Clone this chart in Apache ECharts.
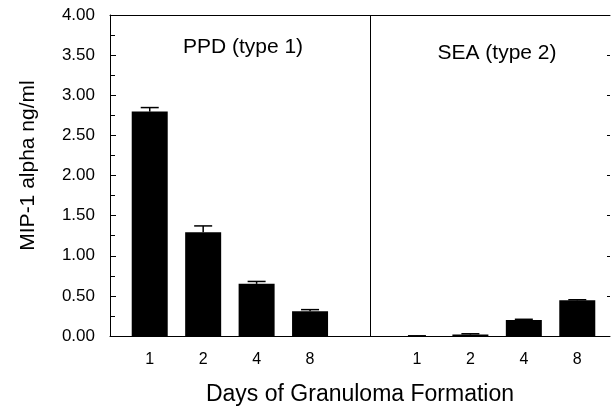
<!DOCTYPE html>
<html lang="en">
<head>
    <meta charset="UTF-8">
    <title>MIP-1 alpha</title>
    <script src="https://cdn.jsdelivr.net/npm/echarts@6.0.0/dist/echarts.min.js"></script>
    <style>
        body { margin: 0; background: #fff; }
    </style>
</head>
<body>
<div id="chart" style="width: 611px;height:411px;"></div>

<script>
    // days of granuloma formation, one panel each
    var ppdDays = ['1', '2', '4', '8'];
    var seaDays = ['1', '2', '4', '8'];
    // MIP-1 alpha (ng/ml) and error bars
    var ppdValues = [2.80, 1.30, 0.66, 0.32];
    var ppdErrors = [0.05, 0.08, 0.03, 0.02];
    var seaValues = [0.01, 0.03, 0.21, 0.455];
    var seaErrors = [0.005, 0.01, 0.01, 0.008];
    var yTicks = ['0.00', '0.50', '1.00', '1.50', '2.00', '2.50', '3.00', '3.50', '4.00'];
    // where the panel divider sits on the frame axis (0..1)
    var dividerAt = 0.518;

    var font = 'Liberation Sans, Arial, sans-serif';

    // one category axis: PPD days, empty slot, SEA days
    var categories = ppdDays.concat(['']).concat(seaDays);
    var barData = ppdValues.concat([null]).concat(seaValues);
    var errData = [];
    ppdValues.forEach(function (v, i) { errData.push([i, v, ppdErrors[i]]); });
    seaValues.forEach(function (v, i) { errData.push([i + ppdDays.length + 1, v, seaErrors[i]]); });

    var chart = echarts.init(document.getElementById('chart'));
    var frameLine = { show: true, onZero: false, lineStyle: { color: '#000', width: 1 } };
    var option = {
        animation: false,
        title: [
            { text: 'PPD (type 1)', left: 238, top: 32, textAlign: 'center',
              textStyle: { fontFamily: font, fontSize: 21, fontWeight: 'normal', color: '#000' } },
            { text: 'SEA (type 2)', left: 492, top: 38, textAlign: 'center',
              textStyle: { fontFamily: font, fontSize: 21, fontWeight: 'normal', color: '#000' } }
        ],
        grid: [
            { left: 110, right: 1, top: 15, bottom: 74 },
            { left: 123, right: 7, top: 15, bottom: 74 }
        ],
        xAxis: [
            {
                gridIndex: 0, type: 'value', min: 0, max: 1, position: 'bottom',
                axisLine: frameLine,
                axisTick: { show: false }, axisLabel: { show: false }, splitLine: { show: false },
                name: 'Days of Granuloma Formation', nameLocation: 'middle', nameGap: 47,
                nameTextStyle: { fontFamily: font, fontSize: 23, color: '#000' }
            },
            {
                gridIndex: 0, type: 'value', min: 0, max: 1, position: 'top',
                axisLine: frameLine,
                axisTick: { show: false }, axisLabel: { show: false }, splitLine: { show: false }
            },
            {
                gridIndex: 1, type: 'category', data: categories,
                axisLine: { show: false }, axisTick: { show: false },
                axisLabel: { fontFamily: font, fontSize: 16, color: '#000', margin: 15, interval: 0 }
            }
        ],
        yAxis: [
            {
                gridIndex: 0, type: 'value', min: 0, max: 4, interval: 0.5, position: 'left',
                axisLine: frameLine,
                axisTick: { show: true, inside: true, length: 6, lineStyle: { color: '#000' } },
                minorTick: { show: true, splitNumber: 2, length: 5, lineStyle: { color: '#000' } },
                axisLabel: {
                    fontFamily: font, fontSize: 17, color: '#000', margin: 15,
                    formatter: function (v) { return yTicks[Math.round(v / 0.5)]; }
                },
                splitLine: { show: false },
                name: 'MIP-1 alpha ng/ml', nameLocation: 'middle', nameRotate: 90, nameGap: 71,
                nameTextStyle: { fontFamily: font, fontSize: 21, color: '#000', padding: [0, 0, 0, 20] }
            },
            {
                gridIndex: 0, type: 'value', min: 0, max: 4, interval: 0.5, position: 'right',
                axisLine: { show: false, onZero: false },
                axisTick: { show: true, inside: true, length: 3, lineStyle: { color: '#000' } },
                axisLabel: { show: false }, splitLine: { show: false }
            },
            {
                gridIndex: 1, type: 'value', min: 0, max: 4, show: false
            }
        ],
        series: [
            {
                type: 'line', xAxisIndex: 0, yAxisIndex: 0, data: [], silent: true,
                markLine: {
                    symbol: 'none', silent: true, label: { show: false },
                    lineStyle: { color: '#000', width: 1, type: 'solid' },
                    data: [{ xAxis: dividerAt }]
                }
            },
            {
                type: 'bar', xAxisIndex: 2, yAxisIndex: 2, data: barData, barWidth: 36,
                itemStyle: { color: '#000' }
            },
            {
                type: 'custom', xAxisIndex: 2, yAxisIndex: 2, data: errData,
                renderItem: function (params, api) {
                    var x = api.value(0), v = api.value(1), e = api.value(2);
                    var base = api.coord([x, v]);
                    var top = api.coord([x, v + e]);
                    var half = 9;
                    var style = { stroke: '#000', lineWidth: 1.5 };
                    return {
                        type: 'group',
                        children: [
                            { type: 'line', shape: { x1: base[0], y1: base[1], x2: top[0], y2: top[1] }, style: style },
                            { type: 'line', shape: { x1: top[0] - half, y1: top[1], x2: top[0] + half, y2: top[1] }, style: style }
                        ]
                    };
                },
                z: 3
            }
        ]
    };
    chart.setOption(option);
</script>
</body>
</html>
